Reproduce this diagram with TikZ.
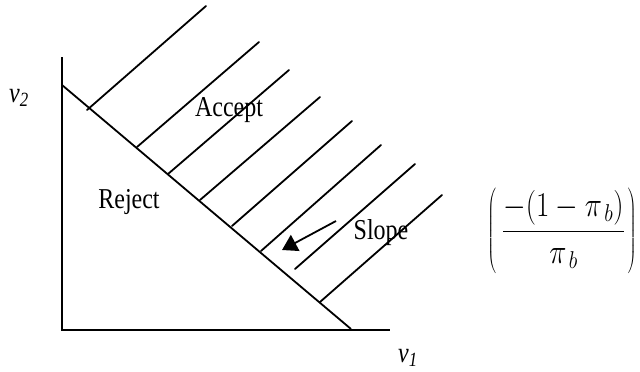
\documentclass[tikz,border=0pt]{standalone}
\usepackage{fix-cm}
\usepackage{fontspec}
\setmainfont{Liberation Serif}
\usetikzlibrary{arrows.meta}
\newcommand{\tallbox}[1]{\scalebox{1}[1.2]{#1}}
\tikzset{
  axisline/.style={line width=1.8pt},
  hatchline/.style={line width=1.8pt, line cap=round},
  lbl/.style={font=\fontsize{24}{28}\selectfont, inner sep=0pt},
  slopearrow/.style={line width=1.8pt, -{Triangle[length=15pt,width=18pt]}}
}
\begin{document}
\begin{tikzpicture}[x=1pt,y=-1pt]
\useasboundingbox (0,0) rectangle (640,372);
% axes
\coordinate (top) at (62,57);
\coordinate (origin) at (62,330);
\coordinate (xend) at (390,330);
\draw[axisline] (top) -- (origin) -- (xend);
% boundary line
\coordinate (b1) at (62,85);
\coordinate (b2) at (351,329);
\draw[axisline] (b1) -- (b2);
% hatch lines
\foreach \xa/\ya/\xb/\yb in {87/110/206/6, 137/147/259/42, 168/174/289/70, 200/200/320/97, 232/226/352/121, 261/251/381/145, 295/269/415/164, 320/302/442/195}
  \draw[hatchline] (\xa,\ya) -- (\xb,\yb);
% arrow
\coordinate (as) at (336,221);
\coordinate (ae) at (282,250);
\draw[slopearrow] (as) -- (ae);
% labels
\node[lbl] (accept) at (229,110) {\tallbox{Accept}};
\node[lbl] (reject) at (129,202) {\tallbox{Reject}};
\node[lbl] (slope) at (381,233) {\tallbox{Slope}};
\node[lbl] (v2) at (19,98) {\tallbox{\itshape v\textsubscript{2}}};
\node[lbl] (v1) at (408,358) {\tallbox{\itshape v\textsubscript{1}}};
\node[inner sep=0pt, font=\fontsize{29}{34}\selectfont] (formula) at (562,231)
  {\tallbox{$\displaystyle\left(\vrule height 43pt depth 29pt width 0pt\hspace{6pt}\frac{-(1-\pi_{\,b})}{\pi_{\,b}}\hspace{3pt}\right)$}};
\end{tikzpicture}
\end{document}
